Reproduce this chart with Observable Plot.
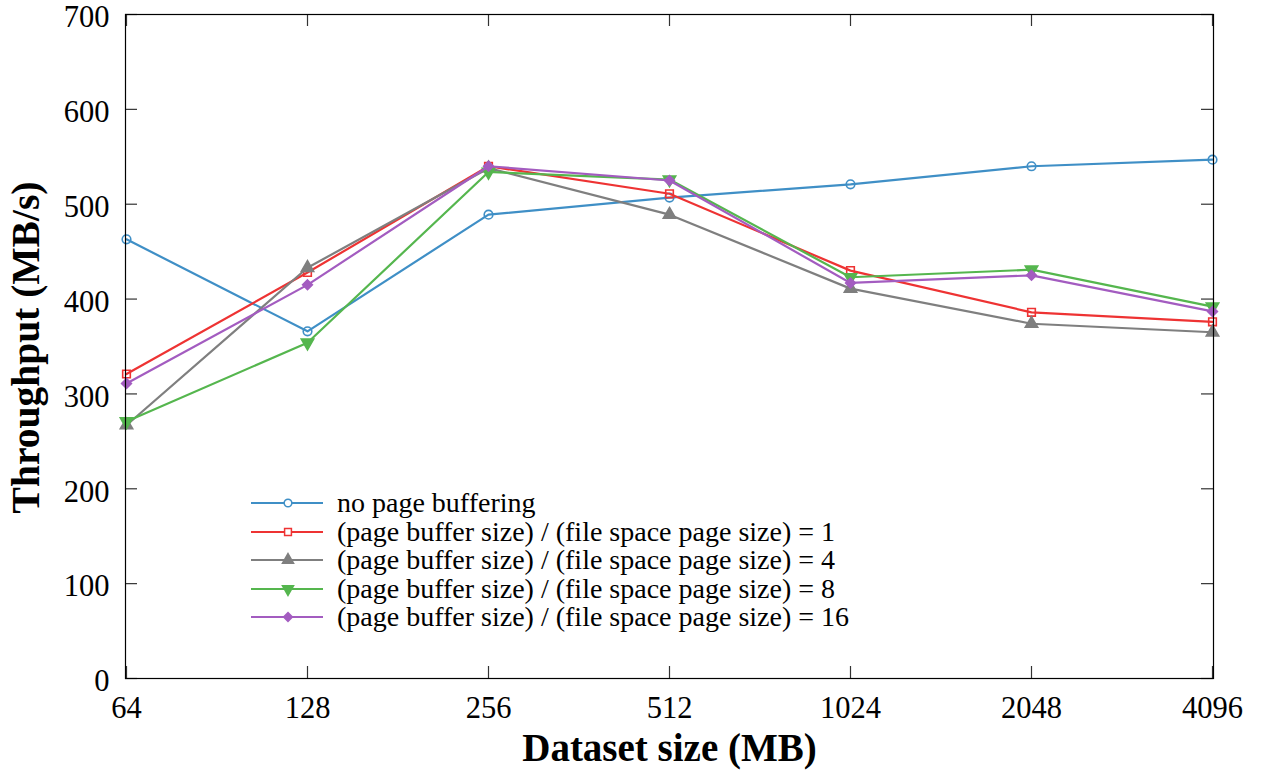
<!DOCTYPE html>
<html>
<head>
<meta charset="utf-8">
<script src="https://cdn.jsdelivr.net/npm/d3@7"></script>
<script src="https://cdn.jsdelivr.net/npm/@observablehq/plot@0.6"></script>
<style>
  html, body { margin: 0; padding: 0; background: #fff; }
  #wrap { position: relative; width: 1263px; height: 774px; font-family: "Liberation Serif", serif; }
  #wrap svg text { font-family: "Liberation Serif", serif; }
  #legend { position: absolute; left: 251px; top: 489px; font-size: 28px; color: #000; font-family: "Liberation Serif", serif; }
  #legend .row { display: flex; align-items: center; height: 28.5px; }
  #legend span { font-family: "Liberation Serif", serif; white-space: nowrap; }
  #legend svg { margin-right: 14px; overflow: visible; }
</style>
</head>
<body>
<div id="wrap"><div id="legend"></div></div>
<script>
const sizes = ["64", "128", "256", "512", "1024", "2048", "4096"];
const noBuffering = [463, 366, 489, 507, 521, 540, 547];
const ratio1 = [321, 428, 540, 511, 430, 386, 376];
const ratio4 = [267, 433, 538, 489, 411, 374, 365];
const ratio8 = [271, 354, 534, 526, 423, 431, 392];
const ratio16 = [311, 415, 540, 525, 417, 425, 387];
const yTicks = [0, 100, 200, 300, 400, 500, 600, 700];
const seriesNames = [
  "no page buffering",
  "(page buffer size) / (file space page size) = 1",
  "(page buffer size) / (file space page size) = 4",
  "(page buffer size) / (file space page size) = 8",
  "(page buffer size) / (file space page size) = 16"
];
const seriesValues = [noBuffering, ratio1, ratio4, ratio8, ratio16];
const colors = ["#3f8fc6", "#ee3333", "#7f7f7f", "#55b64e", "#a35cc0"];

const sqrt3 = Math.sqrt(3);
const triangleDown = {
  draw(context, size) {
    const y = -Math.sqrt(size / (sqrt3 * 3));
    context.moveTo(0, -y * 2);
    context.lineTo(-sqrt3 * y, y);
    context.lineTo(sqrt3 * y, y);
    context.closePath();
  }
};
const symbols = ["circle", "square", "triangle", triangleDown, "diamond2"];
const filled = [false, false, true, true, true];
const radii = [4.3, 4.3, 4.6, 4.6, 4.4];

const data = seriesNames.flatMap((name, i) =>
  sizes.map((s, j) => ({series: name, idx: i, size: s, value: seriesValues[i][j]}))
);

const W = 1263, H = 774, mL = 125, mR = 50, mT = 14, mB = 96;
const plotW = W - mL - mR, plotH = H - mT - mB;
const tickLen = 12;

const marks = [];
seriesNames.forEach((name, i) => {
  const d = data.filter(r => r.idx === i);
  marks.push(Plot.line(d, {x: "size", y: "value", stroke: colors[i], strokeWidth: 2.2}));
  marks.push(Plot.dot(d, {
    x: "size", y: "value", symbol: symbols[i], r: radii[i],
    stroke: colors[i], strokeWidth: 1.6,
    fill: filled[i] ? colors[i] : "none"
  }));
});

const chart = Plot.plot({
  width: W, height: H,
  marginLeft: mL, marginRight: mR, marginTop: mT, marginBottom: mB,
  style: {fontFamily: "Liberation Serif, serif", background: "#fff", color: "#000"},
  x: {type: "point", domain: sizes, padding: 0},
  y: {domain: [0, 700]},
  marks: [
    Plot.tickY(yTicks, {y: d => d, insetRight: plotW - tickLen, stroke: "#333", strokeWidth: 1.2}),
    Plot.tickY(yTicks, {y: d => d, insetLeft: plotW - tickLen, stroke: "#333", strokeWidth: 1.2}),
    Plot.tickX(sizes, {x: d => d, insetTop: plotH - tickLen, stroke: "#333", strokeWidth: 1.2}),
    Plot.tickX(sizes, {x: d => d, insetBottom: plotH - tickLen, stroke: "#333", strokeWidth: 1.2}),
    ...marks,
    Plot.frame({stroke: "#000", strokeWidth: 1.2}),
    Plot.axisY(yTicks, {tickSize: 0, tickPadding: 16, dy: 3, fontSize: 30.5, label: null}),
    Plot.axisX(sizes, {tickSize: 0, tickPadding: 18, fontSize: 30.5, label: null}),
    Plot.text(["Throughput (MB/s)"], {frameAnchor: "left", textAnchor: "middle", rotate: -90, dx: -99, dy: 1, fontSize: 39.5, fontWeight: "bold"}),
    Plot.text(["Dataset size (MB)"], {frameAnchor: "bottom", textAnchor: "middle", dy: 82, fontSize: 39, fontWeight: "bold"})
  ]
});
document.getElementById("wrap").prepend(chart);

const legend = d3.select("#legend");
seriesNames.forEach((name, i) => {
  const row = legend.append("div").attr("class", "row");
  const svg = row.append("svg").attr("width", 72).attr("height", 20);
  svg.append("line").attr("x1", 0).attr("x2", 72).attr("y1", 10).attr("y2", 10)
    .attr("stroke", colors[i]).attr("stroke-width", 2.2);
  const sym = typeof symbols[i] === "string"
    ? {circle: d3.symbolCircle, square: d3.symbolSquare, triangle: d3.symbolTriangle, diamond2: d3.symbolDiamond2}[symbols[i]]
    : symbols[i];
  svg.append("path").attr("transform", "translate(37,10)")
    .attr("d", d3.symbol(sym, Math.PI * radii[i] * radii[i] * 0.8)())
    .attr("fill", filled[i] ? colors[i] : "#fff").attr("stroke", colors[i]).attr("stroke-width", 1.5);
  row.append("span").text(name);
});
</script>
</body>
</html>
